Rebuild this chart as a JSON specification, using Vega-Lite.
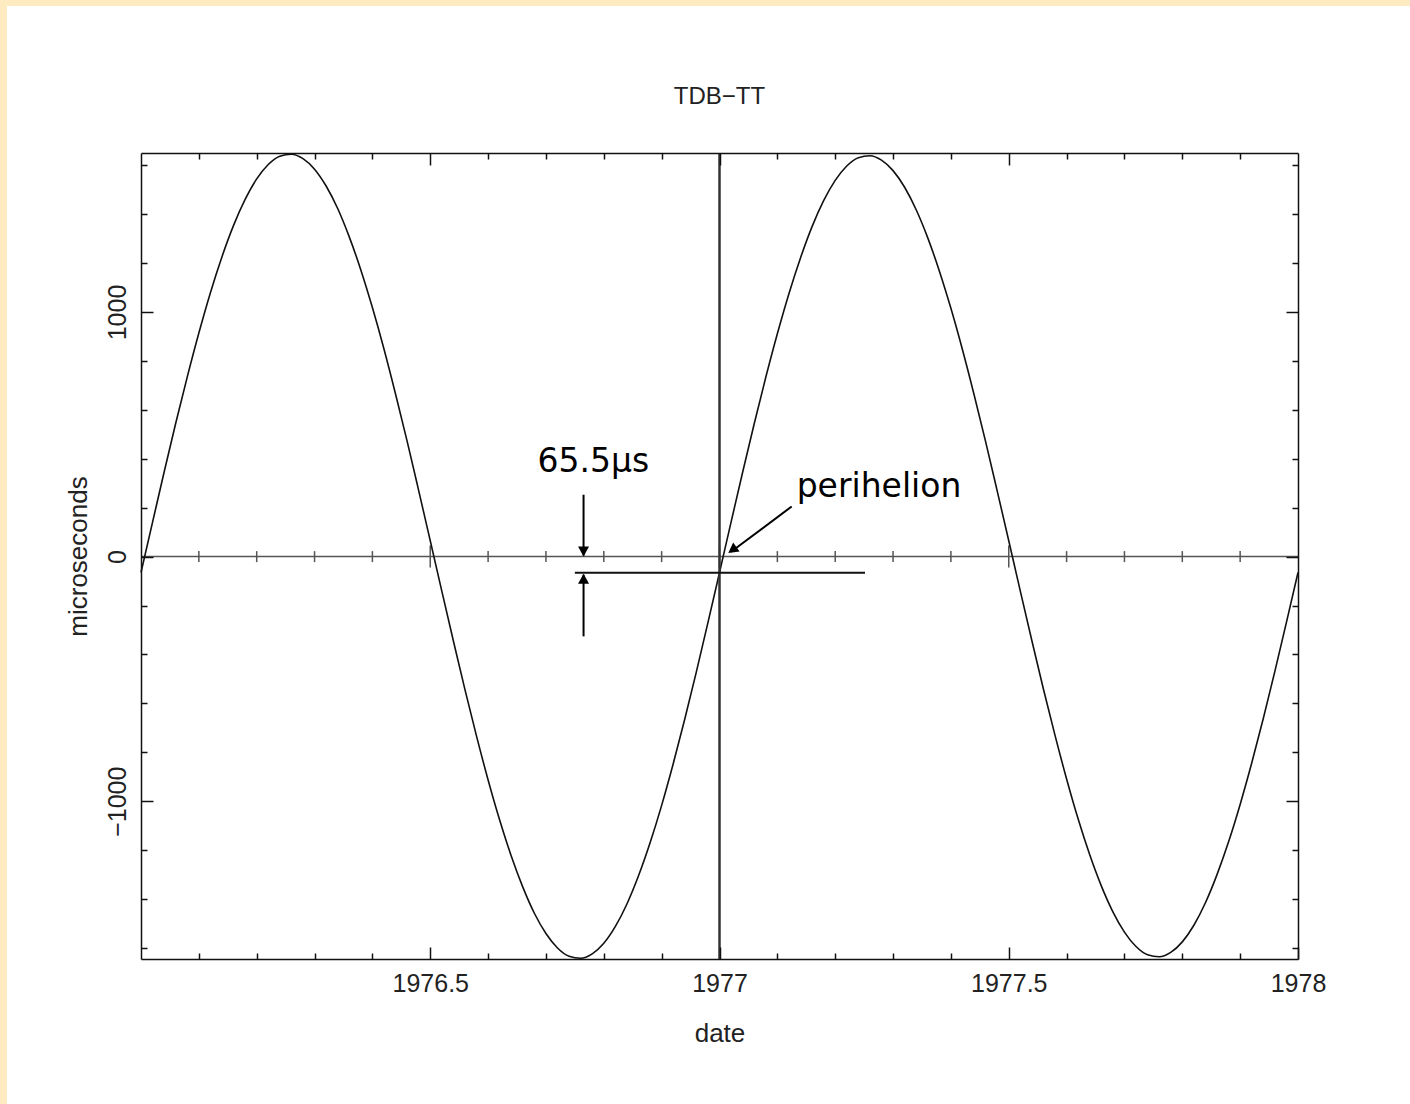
{
  "$schema": "https://vega.github.io/schema/vega-lite/v6.json",
  "width": 1157,
  "height": 806,
  "autosize": {"type": "none"},
  "padding": {"left": 141, "top": 153, "right": 112, "bottom": 145},
  "background": "#FFEBC2",
  "config": {
    "view": {"stroke": null},
    "axis": {
      "grid": false,
      "domainColor": "#111111",
      "domainWidth": 1.5,
      "tickColor": "#111111",
      "tickWidth": 1.5,
      "labelFont": "Liberation Sans",
      "labelFontSize": 25,
      "labelColor": "#222222",
      "labelFlush": false,
      "labelOverlap": false,
      "titleFont": "Liberation Sans",
      "titleFontSize": 26,
      "titleFontWeight": "normal",
      "titleColor": "#222222"
    }
  },
  "resolve": {"axis": {"x": "independent", "y": "independent"}},
  "layer": [
    {
      "data": {"values": [{}]},
      "mark": {"type": "rect", "color": "#ffffff"},
      "encoding": {
        "x": {"datum": 1975.7684, "type": "quantitative", "axis": null},
        "x2": {"datum": 1978.6},
        "y": {"datum": 2251, "type": "quantitative", "axis": null},
        "y2": {"datum": -3000}
      }
    },
    {
      "data": {"values": [{}]},
      "mark": {"type": "text", "font": "Liberation Sans", "fontSize": 24, "align": "center", "baseline": "alphabetic", "color": "#222222"},
      "encoding": {
        "x": {"datum": 1977, "type": "quantitative", "axis": null},
        "y": {"datum": 1852, "type": "quantitative", "axis": null},
        "text": {"value": "TDB−TT"}
      }
    },
    {
      "data": {"values": [{}]},
      "mark": {"type": "rule", "color": "#555555", "strokeWidth": 1.5},
      "encoding": {
        "y": {"datum": 0, "type": "quantitative", "axis": null}
      }
    },
    {
      "data": {"values": [
        {"date": 1976.1, "us": 0}, {"date": 1976.2, "us": 0}, {"date": 1976.3, "us": 0}, {"date": 1976.4, "us": 0},
        {"date": 1976.6, "us": 0}, {"date": 1976.7, "us": 0}, {"date": 1976.8, "us": 0}, {"date": 1976.9, "us": 0},
        {"date": 1977.1, "us": 0}, {"date": 1977.2, "us": 0}, {"date": 1977.3, "us": 0}, {"date": 1977.4, "us": 0},
        {"date": 1977.6, "us": 0}, {"date": 1977.7, "us": 0}, {"date": 1977.8, "us": 0}, {"date": 1977.9, "us": 0}
      ]},
      "mark": {"type": "tick", "orient": "vertical", "size": 11, "thickness": 1.5, "color": "#555555", "opacity": 1},
      "encoding": {
        "x": {"field": "date", "type": "quantitative", "scale": {"domain": [1976, 1978], "nice": false, "zero": false},
          "axis": {"zindex": 2, "orient": "bottom", "values": [1976.1, 1976.2, 1976.3, 1976.4, 1976.6, 1976.7, 1976.8, 1976.9, 1977.1, 1977.2, 1977.3, 1977.4, 1977.6, 1977.7, 1977.8, 1977.9], "tickSize": -6, "labels": false, "domain": false, "title": null}},
        "y": {"field": "us", "type": "quantitative", "scale": {"domain": [-1645, 1650], "nice": false, "zero": false},
          "axis": {"zindex": 2, "orient": "left", "values": [-1600, -1400, -1200, -800, -600, -400, -200, 200, 400, 600, 800, 1200, 1400, 1600], "tickSize": -6, "labels": false, "domain": false, "title": null}}
      }
    },
    {
      "data": {"values": [
        {"date": 1976.5, "us": 0}, {"date": 1977.0, "us": 0}, {"date": 1977.5, "us": 0}
      ]},
      "mark": {"type": "tick", "orient": "vertical", "size": 22, "thickness": 1.5, "color": "#555555", "opacity": 1},
      "encoding": {
        "x": {"field": "date", "type": "quantitative", "scale": {"domain": [1976, 1978], "nice": false, "zero": false},
          "axis": {"zindex": 2, "orient": "top", "values": [1976.5, 1977, 1977.5], "tickSize": -12, "labels": false, "domain": true, "title": null}},
        "y": {"field": "us", "type": "quantitative", "scale": {"domain": [-1645, 1650], "nice": false, "zero": false},
          "axis": {"zindex": 2, "orient": "right", "values": [-1000, 0, 1000], "tickSize": -12, "labels": false, "domain": true, "title": null}}
      }
    },
    {
      "data": {"values": [
        {"date": 1976.00, "us": -65}, {"date": 1976.02, "us": 141}, {"date": 1976.04, "us": 346}, {"date": 1976.06, "us": 545},
        {"date": 1976.08, "us": 735}, {"date": 1976.10, "us": 914}, {"date": 1976.12, "us": 1079}, {"date": 1976.14, "us": 1226},
        {"date": 1976.16, "us": 1354}, {"date": 1976.18, "us": 1460}, {"date": 1976.20, "us": 1544}, {"date": 1976.22, "us": 1603},
        {"date": 1976.24, "us": 1637}, {"date": 1976.26, "us": 1645}, {"date": 1976.28, "us": 1627}, {"date": 1976.30, "us": 1584},
        {"date": 1976.32, "us": 1515}, {"date": 1976.34, "us": 1423}, {"date": 1976.36, "us": 1307}, {"date": 1976.38, "us": 1172},
        {"date": 1976.40, "us": 1018}, {"date": 1976.42, "us": 849}, {"date": 1976.44, "us": 665}, {"date": 1976.46, "us": 472},
        {"date": 1976.48, "us": 270}, {"date": 1976.50, "us": 65}, {"date": 1976.52, "us": -141}, {"date": 1976.54, "us": -345},
        {"date": 1976.56, "us": -544}, {"date": 1976.58, "us": -734}, {"date": 1976.60, "us": -913}, {"date": 1976.62, "us": -1077},
        {"date": 1976.64, "us": -1224}, {"date": 1976.66, "us": -1351}, {"date": 1976.68, "us": -1458}, {"date": 1976.70, "us": -1541},
        {"date": 1976.72, "us": -1600}, {"date": 1976.74, "us": -1634}, {"date": 1976.76, "us": -1642}, {"date": 1976.78, "us": -1624},
        {"date": 1976.80, "us": -1581}, {"date": 1976.82, "us": -1512}, {"date": 1976.84, "us": -1420}, {"date": 1976.86, "us": -1305},
        {"date": 1976.88, "us": -1170}, {"date": 1976.90, "us": -1017}, {"date": 1976.92, "us": -847}, {"date": 1976.94, "us": -664},
        {"date": 1976.96, "us": -471}, {"date": 1976.98, "us": -270}, {"date": 1977.00, "us": -65}, {"date": 1977.02, "us": 141},
        {"date": 1977.04, "us": 345}, {"date": 1977.06, "us": 543}, {"date": 1977.08, "us": 733}, {"date": 1977.10, "us": 911},
        {"date": 1977.12, "us": 1075}, {"date": 1977.14, "us": 1221}, {"date": 1977.16, "us": 1349}, {"date": 1977.18, "us": 1455},
        {"date": 1977.20, "us": 1538}, {"date": 1977.22, "us": 1597}, {"date": 1977.24, "us": 1631}, {"date": 1977.26, "us": 1639},
        {"date": 1977.28, "us": 1621}, {"date": 1977.30, "us": 1578}, {"date": 1977.32, "us": 1510}, {"date": 1977.34, "us": 1418},
        {"date": 1977.36, "us": 1303}, {"date": 1977.38, "us": 1168}, {"date": 1977.40, "us": 1015}, {"date": 1977.42, "us": 846},
        {"date": 1977.44, "us": 663}, {"date": 1977.46, "us": 470}, {"date": 1977.48, "us": 269}, {"date": 1977.50, "us": 65},
        {"date": 1977.52, "us": -141}, {"date": 1977.54, "us": -344}, {"date": 1977.56, "us": -542}, {"date": 1977.58, "us": -731},
        {"date": 1977.60, "us": -909}, {"date": 1977.62, "us": -1073}, {"date": 1977.64, "us": -1219}, {"date": 1977.66, "us": -1346},
        {"date": 1977.68, "us": -1452}, {"date": 1977.70, "us": -1535}, {"date": 1977.72, "us": -1594}, {"date": 1977.74, "us": -1628},
        {"date": 1977.76, "us": -1636}, {"date": 1977.78, "us": -1618}, {"date": 1977.80, "us": -1575}, {"date": 1977.82, "us": -1507},
        {"date": 1977.84, "us": -1415}, {"date": 1977.86, "us": -1300}, {"date": 1977.88, "us": -1166}, {"date": 1977.90, "us": -1013},
        {"date": 1977.92, "us": -844}, {"date": 1977.94, "us": -662}, {"date": 1977.96, "us": -469}, {"date": 1977.98, "us": -269},
        {"date": 1978.00, "us": -65}
      ]},
      "mark": {"type": "line", "color": "#111111", "strokeWidth": 1.6, "interpolate": "monotone"},
      "encoding": {
        "x": {"field": "date", "type": "quantitative", "scale": {"domain": [1976, 1978], "nice": false, "zero": false},
          "axis": {"zindex": 2, "orient": "bottom", "values": [1976.5, 1977, 1977.5, 1978], "format": "~g", "tickSize": -12, "labelPadding": 24.4, "labelBaseline": "top", "labelAlign": "center", "domain": true, "title": "date", "titleBaseline": "alphabetic", "titlePadding": 44.6}},
        "y": {"field": "us", "type": "quantitative", "scale": {"domain": [-1645, 1650], "nice": false, "zero": false},
          "axis": {"zindex": 2, "orient": "left", "values": [-1000, 0, 1000], "format": "d", "tickSize": -12, "labelAngle": -90, "labelAlign": "center", "labelBaseline": "alphabetic", "labelPadding": 27.5, "domain": true, "title": "microseconds", "titleAngle": -90, "titleBaseline": "alphabetic", "titlePadding": 19}}
      }
    },
    {
      "data": {"values": [{}]},
      "mark": {"type": "rule", "color": "#333333", "strokeWidth": 2.5},
      "encoding": {
        "x": {"datum": 1977, "type": "quantitative", "axis": null}
      }
    },
    {
      "data": {"values": [{"x": 1976.75, "x2": 1977.2515, "y": -65.5}]},
      "mark": {"type": "rule", "color": "#111111", "strokeWidth": 2},
      "encoding": {
        "x": {"field": "x", "type": "quantitative", "scale": {"domain": [1976, 1978], "nice": false, "zero": false},
          "axis": {"zindex": 2, "orient": "top", "values": [1976.1, 1976.2, 1976.3, 1976.4, 1976.6, 1976.7, 1976.8, 1976.9, 1977.1, 1977.2, 1977.3, 1977.4, 1977.6, 1977.7, 1977.8, 1977.9], "tickSize": -6, "labels": false, "domain": false, "title": null}},
        "x2": {"field": "x2"},
        "y": {"field": "y", "type": "quantitative", "scale": {"domain": [-1645, 1650], "nice": false, "zero": false},
          "axis": {"zindex": 2, "orient": "right", "values": [-1600, -1400, -1200, -800, -600, -400, -200, 200, 400, 600, 800, 1200, 1400, 1600], "tickSize": -6, "labels": false, "domain": false, "title": null}}
      }
    },
    {
      "data": {"values": [
        {"x": 1976.765, "x2": 1976.765, "y": 253, "y2": 4},
        {"x": 1976.765, "x2": 1976.765, "y": -326, "y2": -74},
        {"x": 1977.1248, "x2": 1977.0200, "y": 205, "y2": 20}
      ]},
      "mark": {"type": "rule", "color": "#000000", "strokeWidth": 2},
      "encoding": {
        "x": {"field": "x", "type": "quantitative", "axis": null},
        "x2": {"field": "x2"},
        "y": {"field": "y", "type": "quantitative", "axis": null},
        "y2": {"field": "y2"}
      }
    },
    {
      "data": {"values": [{"x": 1976.765, "y": 0}]},
      "mark": {"type": "point", "shape": "M0,0L-0.55,-1L0.55,-1Z", "size": 400, "filled": true, "color": "#000000", "opacity": 1, "angle": 0},
      "encoding": {
        "x": {"field": "x", "type": "quantitative", "axis": null},
        "y": {"field": "y", "type": "quantitative", "axis": null}
      }
    },
    {
      "data": {"values": [{"x": 1976.765, "y": -70}]},
      "mark": {"type": "point", "shape": "M0,0L-0.55,-1L0.55,-1Z", "size": 400, "filled": true, "color": "#000000", "opacity": 1, "angle": 180},
      "encoding": {
        "x": {"field": "x", "type": "quantitative", "axis": null},
        "y": {"field": "y", "type": "quantitative", "axis": null}
      }
    },
    {
      "data": {"values": [{"x": 1977.0152, "y": 15}]},
      "mark": {"type": "point", "shape": "M0,0L-0.55,-1L0.55,-1Z", "size": 400, "filled": true, "color": "#000000", "opacity": 1, "angle": 54},
      "encoding": {
        "x": {"field": "x", "type": "quantitative", "axis": null},
        "y": {"field": "y", "type": "quantitative", "axis": null}
      }
    },
    {
      "data": {"values": [{"x": 1976.7819, "y": 347, "label": "65.5μs"}]},
      "mark": {"type": "text", "font": "DejaVu Sans", "fontSize": 33, "align": "center", "baseline": "alphabetic", "color": "#000000"},
      "encoding": {
        "x": {"field": "x", "type": "quantitative", "axis": null},
        "y": {"field": "y", "type": "quantitative", "axis": null},
        "text": {"field": "label"}
      }
    },
    {
      "data": {"values": [{"x": 1977.1334, "y": 242, "label": "perihelion"}]},
      "mark": {"type": "text", "font": "DejaVu Sans", "fontSize": 33, "align": "left", "baseline": "alphabetic", "color": "#000000"},
      "encoding": {
        "x": {"field": "x", "type": "quantitative", "axis": null},
        "y": {"field": "y", "type": "quantitative", "axis": null},
        "text": {"field": "label"}
      }
    }
  ]
}
